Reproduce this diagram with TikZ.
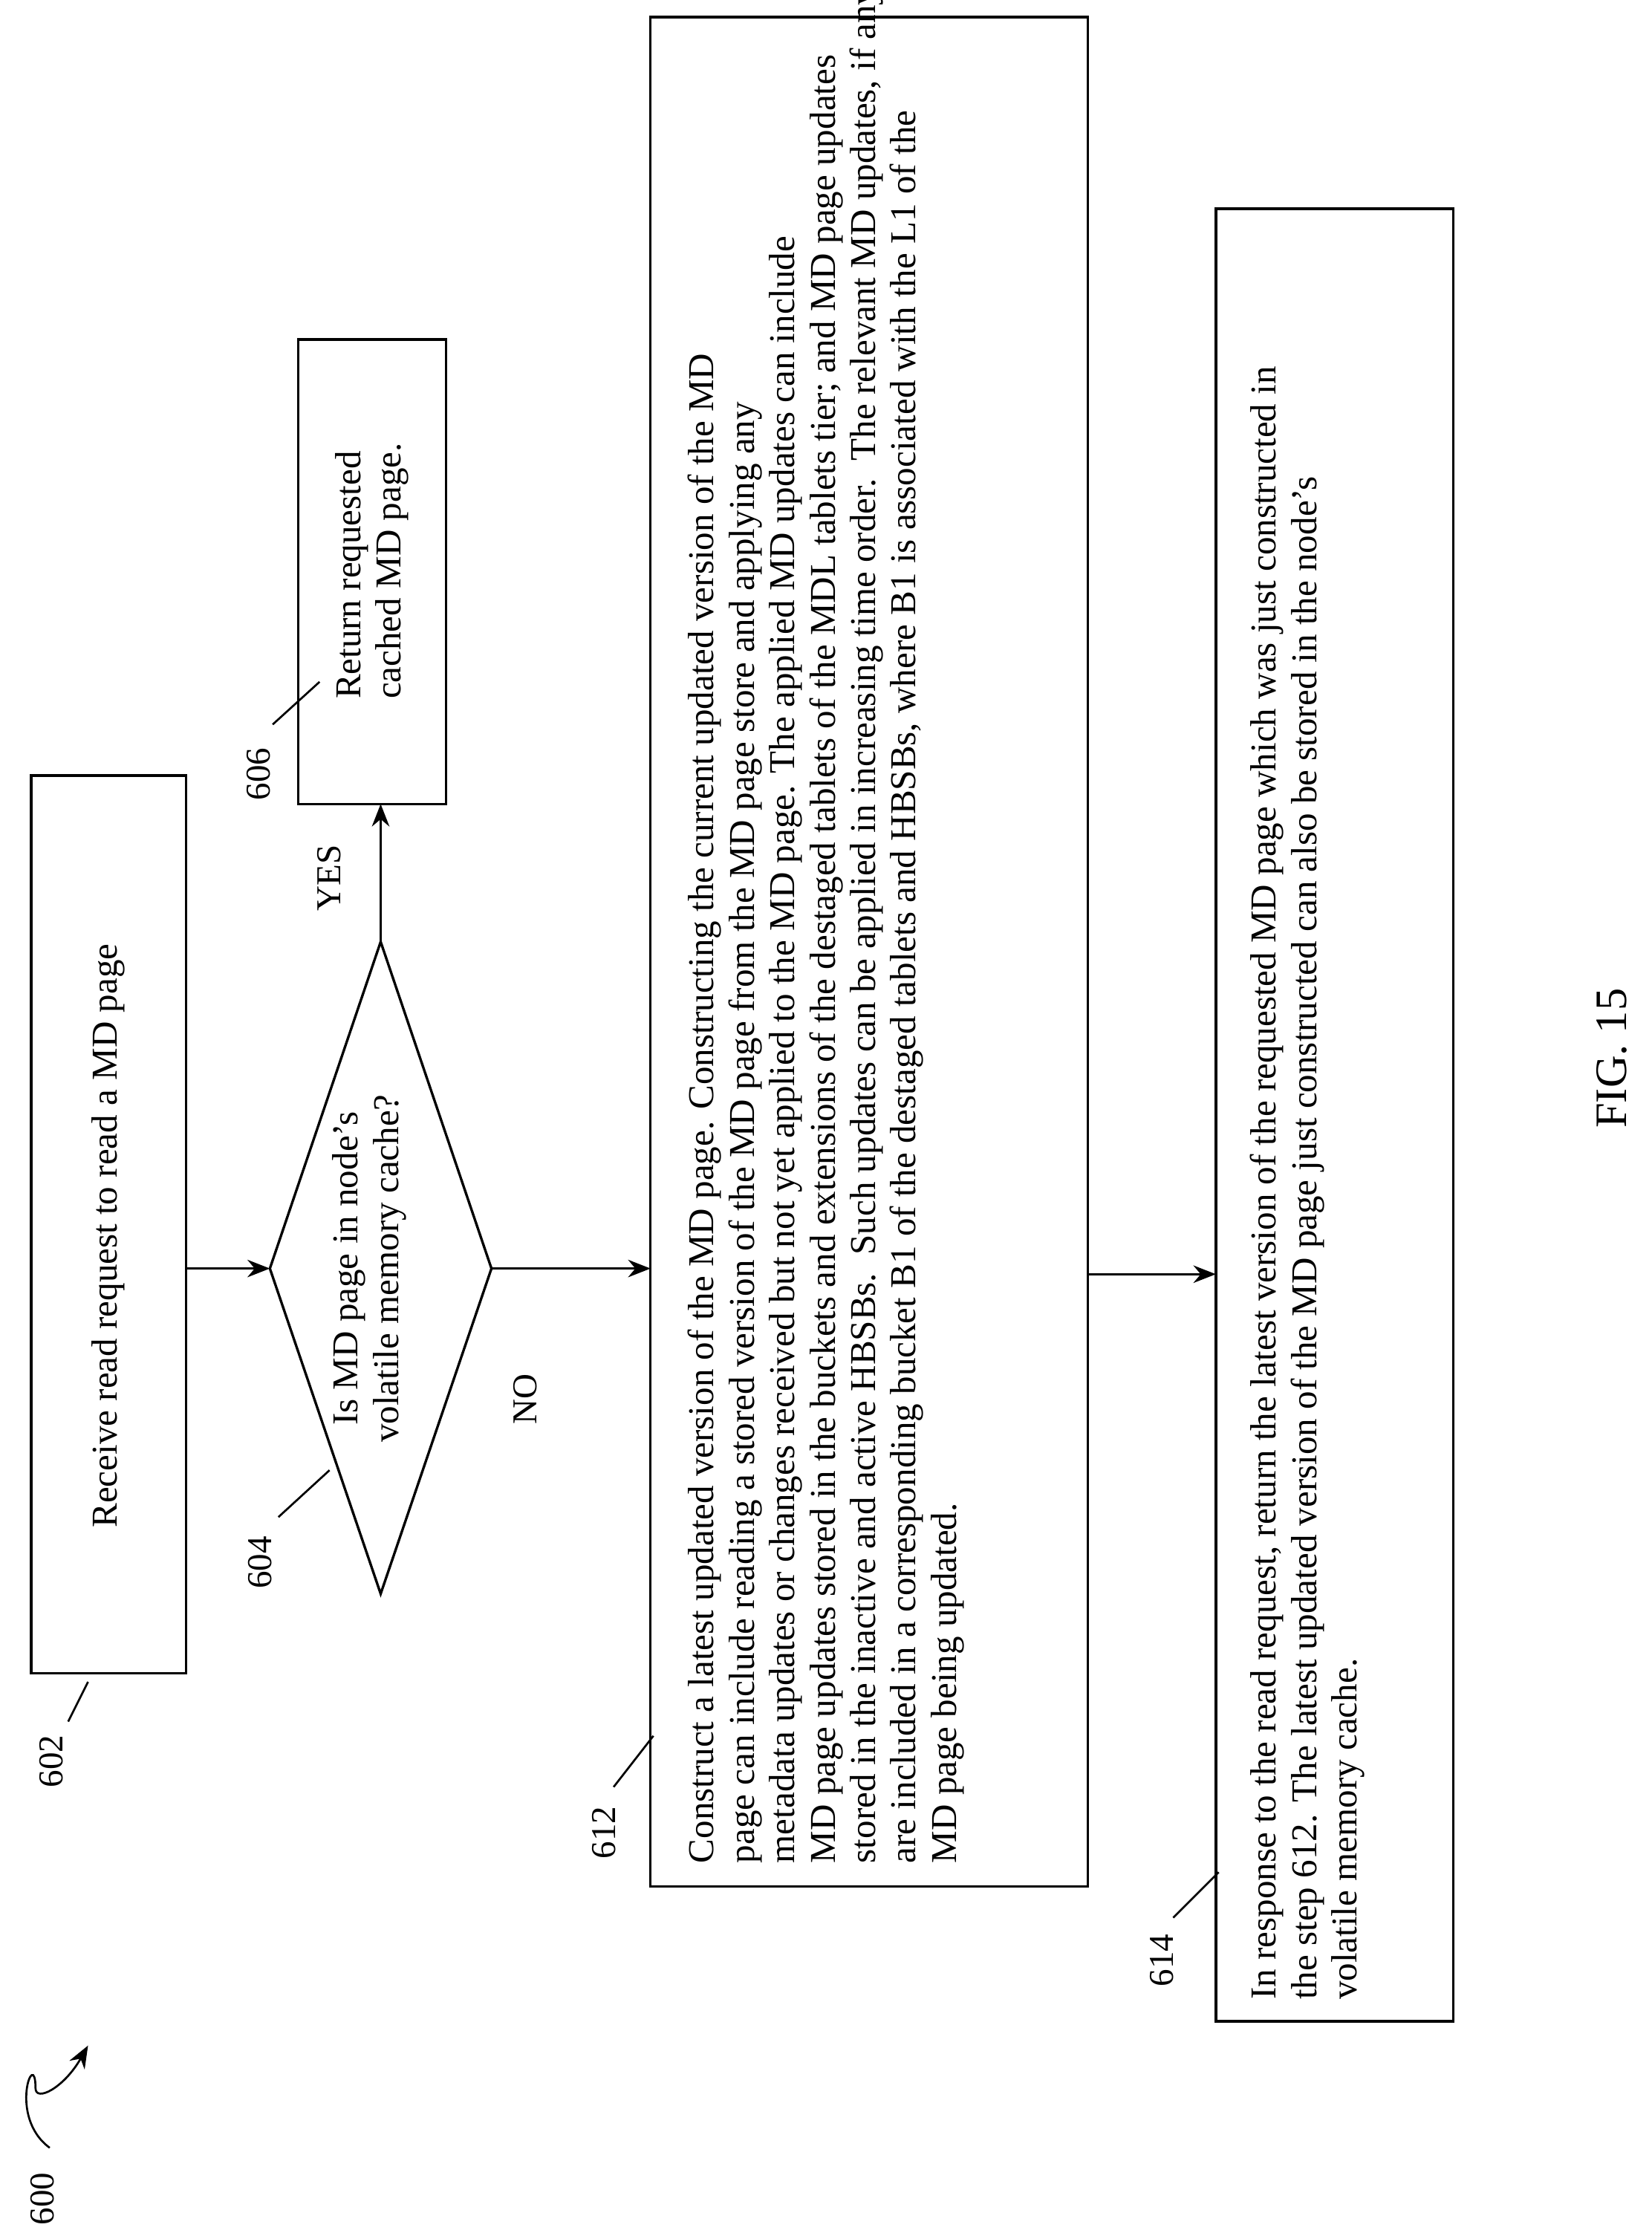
\documentclass[tikz,border=0pt]{standalone}
\usepackage{fontspec}
\setmainfont{Liberation Serif}
\usetikzlibrary{arrows.meta,shapes.geometric}
\begin{document}
\begin{tikzpicture}[x=0.02cm,y=-0.02cm,
  box/.style={draw,line width=1pt},
  txt/.style={rotate=90,font=\fontsize{14.6}{16.2}\selectfont,align=left,inner sep=0pt},
  lbl/.style={rotate=90,font=\fontsize{14}{16}\selectfont,inner sep=1pt},
  arr/.style={-{Stealth[length=9pt,width=7pt]},line width=1pt},
  lead/.style={line width=0.8pt}]
\useasboundingbox (0,0) rectangle (1163,1572);
% boxes
\draw[box] (22,546) rectangle (131,1178);
\node[txt] (t602) at (76,870) {Receive read request to read a MD page};
\draw[box] (268,663) coordinate (dt) -- (346,893) coordinate (dr) -- (268,1122) coordinate (db) -- (190,893) coordinate (dl) -- cycle;
\node[txt,align=center] (t604) at (260,893) {Is MD page in node's\\volatile memory cache?};
\draw[box] (210,239) rectangle (314,566);
\coordinate (b606) at (268,566);
\node[txt] (t606) at (262,402) {Return requested\\cached MD page.};
\draw[box] (458,12) rectangle (766,1328);
\node[txt,anchor=north west] (t612) at (484,1312) {Construct a latest updated version of the MD page. Constructing the current updated version of the MD\\
page can include reading a stored version of the MD page from the MD page store and applying any\\
metadata updates or changes received but not yet applied to the MD page. The applied MD updates can include\\
MD page updates stored in the buckets and extensions of the destaged tablets of the MDL tablets tier; and MD page updates\\
stored in the inactive and active HBSBs.\ \ Such updates can be applied in increasing time order.\ \ The relevant MD updates, if any,\\
are included in a corresponding bucket B1 of the destaged tablets and HBSBs, where B1 is associated with the L1 of the\\
MD page being updated.};
\draw[box] (856,147) rectangle (1023,1423);
\node[txt,anchor=north west] (t614) at (880,1408) {In response to the read request, return the latest version of the requested MD page which was just constructed in\\
the step 612. The latest updated version of the MD page just constructed can also be stored in the node's\\
volatile memory cache.};
% connectors
\coordinate (a1) at (131,893); \draw[arr] (a1) -- (dl);
\draw[arr] (dt) -- (b606);
\coordinate (n612) at (458,893); \draw[arr] (dr) -- (n612);
\coordinate (s612) at (766,897); \coordinate (n614) at (856,897); \draw[arr] (s612) -- (n614);
\node[lbl] (yes) at (232,618) {YES};
\node[lbl] (no) at (370,985) {NO};
% reference labels
\node[lbl] (l602) at (36,1240) {602};
\draw[lead] (48,1212) -- (62,1184);
\node[lbl] (l604) at (183,1100) {604};
\draw[lead] (196,1068) -- (232,1035);
\node[lbl] (l606) at (182,545) {606};
\draw[lead] (192,510) -- (225,480);
\node[lbl] (l612) at (425,1290) {612};
\draw[lead] (432,1258) -- (460,1222);
\node[lbl] (l614) at (818,1380) {614};
\draw[lead] (826,1350) -- (858,1318);
\node[lbl] (l600) at (30,1548) {600};
\draw[lead,-{Stealth[length=9pt,width=7pt]}] (35,1512) .. controls (5,1490) and (25,1440) .. (25,1470) .. controls (25,1480) and (45,1470) .. (62,1440);
\node[rotate=90,font=\fontsize{18}{20}\selectfont] (fig) at (1135,745) {FIG. 15};
\end{tikzpicture}
\end{document}
